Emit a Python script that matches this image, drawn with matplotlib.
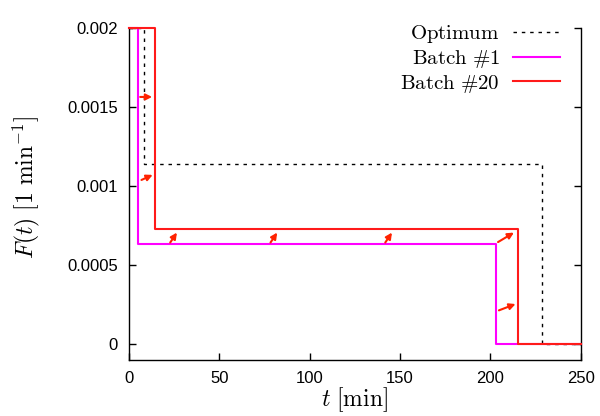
import matplotlib
matplotlib.use("Agg")
import matplotlib.pyplot as plt
import numpy as np

plt.rcParams['mathtext.fontset'] = 'cm'
plt.rcParams['font.family'] = ['Liberation Sans', 'DejaVu Sans']

# Step profiles (time breakpoints [min], flow values [1/min])
t_opt = [0, 8.1, 8.1, 228.6, 228.6, 250]
F_opt = [0.002, 0.002, 0.001142, 0.001142, 0.0, 0.0]

t_b1 = [0, 5.0, 5.0, 203.0, 203.0, 250]
F_b1 = [0.002, 0.002, 0.000631, 0.000631, 0.0, 0.0]

t_b20 = [0, 14.2, 14.2, 215.2, 215.2, 250]
F_b20 = [0.002, 0.002, 0.000728, 0.000728, 0.0, 0.0]

# arrows: (t_start, F_start, t_end, F_end)
arrows = [
    (6.2, 0.001563, 12.8, 0.001563),
    (6.9, 0.001038, 13.1, 0.001070),
    (22.8, 0.000642, 26.5, 0.000705),
    (78.3, 0.000642, 82.0, 0.000705),
    (141.8, 0.000642, 145.5, 0.000705),
    (204.2, 0.000645, 213.0, 0.000705),
    (204.7, 0.000213, 213.9, 0.000253),
]

xticks = [0, 50, 100, 150, 200, 250]
yticks = [0, 0.0005, 0.001, 0.0015, 0.002]
ytick_labels = ['0', '0.0005', '0.001', '0.0015', '0.002']

fig = plt.figure(figsize=(6.0, 4.16), dpi=100)
ax = fig.add_axes([0.215, 0.135, 0.753, 0.798])

ax.plot(t_opt, F_opt, color='black', lw=1.0, linestyle=(0, (2.5, 3.5)),
        label=r'$\mathrm{Optimum}$', zorder=2, clip_on=False)
ax.plot(t_b1, F_b1, color='#ff00ff', lw=1.5, label=r'$\mathrm{Batch\ \#1}$',
        zorder=3, clip_on=False)
ax.plot(t_b20, F_b20, color='#ff1a1a', lw=1.5, label=r'$\mathrm{Batch\ \#20}$',
        zorder=4, clip_on=False)

for (x0, y0, x1, y1) in arrows:
    ax.annotate('', xy=(x1, y1), xytext=(x0, y0),
                arrowprops=dict(arrowstyle='-|>', color='#ff2200', lw=1.5,
                                mutation_scale=9, shrinkA=0, shrinkB=0),
                zorder=5)

ax.set_xlim(0, 250)
ax.set_ylim(-0.0001, 0.002)
ax.set_xticks(xticks)
ax.set_yticks(yticks)
ax.set_yticklabels(ytick_labels)
ax.tick_params(direction='in', length=5, width=1, labelsize=12,
               top=False, right=True, pad=8)
ax.spines['top'].set_visible(False)
for s in ax.spines.values():
    s.set_linewidth(1.0)

ax.set_xlabel(r'$t\ [\mathrm{min}]$', fontsize=17)
ax.set_ylabel(r'$F(t)\ [1\ \mathrm{min}^{-1}]$', fontsize=17)
ax.xaxis.set_label_coords(0.5, -0.078)
ax.yaxis.set_label_coords(-0.192, 0.52)

leg = ax.legend(loc='upper right', bbox_to_anchor=(0.9535, 1.015),
                frameon=False, markerfirst=False, fontsize=15,
                handlelength=2.25, borderaxespad=0.0, borderpad=0.0,
                labelspacing=0.14, handletextpad=0.62)
for txt in leg.get_texts():
    txt.set_ha('right')

fig.savefig('out.png', dpi=100)
